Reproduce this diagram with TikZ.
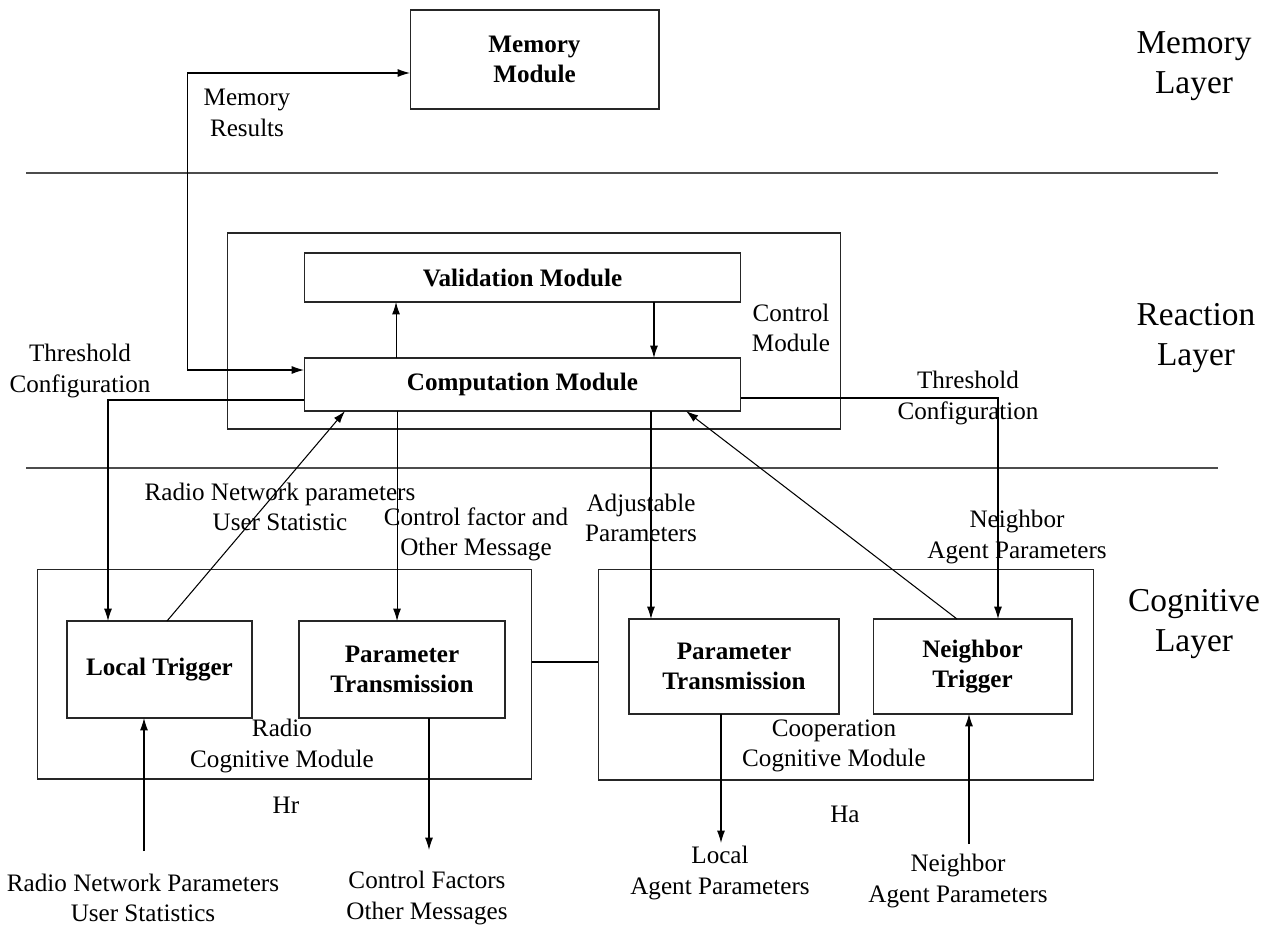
\documentclass[tikz,border=0pt]{standalone}
\usepackage{fontspec}
\setmainfont{Liberation Serif}
\usetikzlibrary{arrows.meta}

\begin{document}
\begin{tikzpicture}[x=0.02cm, y=-0.02cm, >={Latex[length=7pt,width=4.5pt]}, line width=0.6pt,
                    font=\fontsize{14.3}{17.2}\selectfont]
\tikzstyle{module}=[draw=black!85, rectangle, inner sep=0pt, outer sep=0pt, align=center, font=\fontsize{14.3}{17.2}\selectfont\bfseries]
\tikzstyle{outerbox}=[draw=black!85, rectangle, inner sep=0pt, outer sep=0pt]
\tikzstyle{msg}=[align=center, inner sep=0pt]
\tikzstyle{layertext}=[align=center, inner sep=0pt, font=\fontsize{19}{22.5}\selectfont]
\useasboundingbox (0,0) rectangle (1272,927);

% layer separators
\draw[black!70] (26,173) -- (1218,173);
\draw[black!70] (26,468) -- (1218,468);

\node[layertext] (memlayer)  at (1194,66)  {Memory\\Layer};
\node[layertext] (reaclayer) at (1196,338) {Reaction\\Layer};
\node[layertext] (coglayer)  at (1194,624) {Cognitive\\Layer};

% modules
\node[module, minimum width=4.98cm, minimum height=1.98cm] (mem)   at (534.5,59.5)  {Memory\\Module};
\node[outerbox, minimum width=12.28cm, minimum height=3.92cm] (ctrl) at (534,331) {};
\node[module, minimum width=8.74cm, minimum height=0.98cm] (val)   at (522.5,277.5) {Validation Module};
\node[module, minimum width=8.74cm, minimum height=1.06cm] (comp)  at (522.5,384.5) {Computation Module};
\node[outerbox, minimum width=9.9cm, minimum height=4.2cm]   (radio) at (284.5,674) {};
\node[outerbox, minimum width=9.92cm, minimum height=4.22cm] (coop)  at (846,674.5) {};
\node[module, minimum width=3.7cm, minimum height=1.94cm]  (lt)  at (159.5,669.5) {Local Trigger};
\node[module, minimum width=4.12cm, minimum height=1.94cm] (ptl) at (402,669.5)   {Parameter\\Transmission};
\node[module, minimum width=4.2cm, minimum height=1.9cm]   (ptr) at (734,666.5)   {Parameter\\Transmission};
\node[module, minimum width=3.98cm, minimum height=1.9cm]  (nt)  at (972.5,666.5) {Neighbor\\Trigger};

% labels
\node[msg] (ctrllab)  at (791,328)  {Control\\Module};
\node[msg] (radiolab) at (282,746)  {Radio\\Cognitive Module};
\node[msg] (cooplab)  at (834,746)  {Cooperation\\Cognitive Module};
\node[msg] (hr)       at (286,805)  {Hr};
\node[msg] (ha)       at (845,814)  {Ha};
\node[msg] (memres)   at (247,113)  {Memory\\Results};
\node[msg] (thrl)     at (80,371)   {Threshold\\Configuration};
\node[msg] (thrr)     at (968,398)  {Threshold\\Configuration};
\node[msg] (rnpup)    at (280,507)  {Radio Network parameters\\User Statistic};
\node[msg] (cfdown)   at (476,534)  {Control factor and\\Other Message};
\node[msg] (adjp)     at (641,518)  {Adjustable\\Parameters};
\node[msg] (napup)    at (1017,537) {Neighbor\\Agent Parameters};
\node[msg] (rnp)      at (143,898)  {Radio Network Parameters\\User Statistics};
\node[msg] (cfo)      at (427,898)  {Control Factors\\Other Messages};
\node[msg] (lap)      at (720,873)  {Local\\Agent Parameters};
\node[msg] (nap)      at (958,881)  {Neighbor\\Agent Parameters};

% connectors
\draw[<->] ([yshift=0.29cm]comp.west) -- ++(-2.34cm,0) |- ([yshift=-0.27cm]mem.west);
\draw[->] ([xshift=-2.53cm]comp.north) -- ([xshift=-2.53cm]val.south);
\draw[->] ([xshift=2.63cm]val.south) -- ([xshift=2.63cm]comp.north);
\draw[->] ([yshift=-0.31cm]comp.west) -| ([xshift=-1.03cm]lt.north);
\draw[->] ([yshift=-0.27cm]comp.east) -| ([xshift=0.51cm]nt.north);
\draw[->] ([xshift=0.15cm]lt.north) -- ([xshift=-3.55cm]comp.south);
\draw[->] ([xshift=-2.51cm]comp.south) -- ([xshift=-2.51cm]comp.south |- ptl.north);
\draw[->] ([xshift=2.57cm]comp.south) -- ([xshift=2.57cm]comp.south |- ptr.north);
\draw[->] ([xshift=-0.31cm]nt.north) -- ([xshift=3.27cm]comp.south);
\draw ([yshift=0.24cm]radio.east) -- ([yshift=0.24cm]radio.east -| coop.west);

\coordinate (rnpin)  at (144,851);
\coordinate (cfout)  at (429,850);
\coordinate (lapout) at (721,843);
\coordinate (napin)  at (969,844);
\draw[->] (rnpin) -- (rnpin |- lt.south);
\draw[->] (cfout |- ptl.south) -- (cfout);
\draw[->] (lapout |- ptr.south) -- (lapout);
\draw[->] (napin) -- (napin |- nt.south);
\end{tikzpicture}
\end{document}
